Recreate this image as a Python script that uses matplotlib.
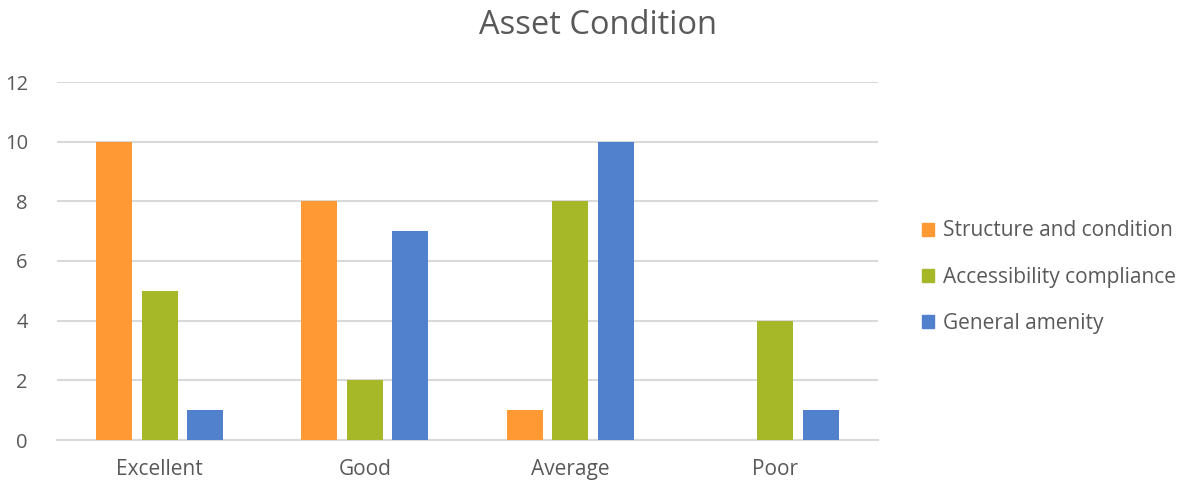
import matplotlib
matplotlib.use("Agg")
import matplotlib.pyplot as plt
import numpy as np
from matplotlib.patches import Patch

categories = ["Excellent", "Good", "Average", "Poor"]
series_names = ["Structure and condition", "Accessibility compliance", "General amenity"]
structure = [10, 8, 1, 0]
accessibility = [5, 2, 8, 4]
amenity = [1, 7, 10, 1]
yticks = [0, 2, 4, 6, 8, 10, 12]
title = "Asset Condition"

colors = ["#FF9933", "#A6B727", "#5181CD"]
txt = "#595959"
plt.rcParams['font.family'] = ['Open Sans', 'DejaVu Sans']

fig = plt.figure(figsize=(11.84, 4.83), dpi=100)
ax = fig.add_axes([57/1184, 1-440/483, (878-57)/1184, (440-82)/483])

x = np.arange(len(categories))
w = 0.1756
off = 0.222
for i, vals in enumerate([structure, accessibility, amenity]):
    ax.bar(x + (i-1)*off, vals, width=w, color=colors[i], zorder=3, label=series_names[i])

ax.set_xlim(-0.5, 3.5)
ax.set_ylim(0, 12)
ax.set_yticks(yticks)
ax.set_xticks(x)
ax.set_xticklabels(categories)
ax.grid(axis='y', color='#D9D9D9', linewidth=1.5, zorder=0)
for s in ['top', 'right', 'left']:
    ax.spines[s].set_visible(False)
ax.spines['bottom'].set_color('#D9D9D9')
ax.spines['bottom'].set_linewidth(1.5)
ax.tick_params(axis='both', length=0, colors=txt)
ax.tick_params(axis='y', pad=21, labelsize=14.5)
ax.tick_params(axis='x', pad=14, labelsize=15)

fig.text(598/1184, 1-26/483, title, ha='center', va='center', fontsize=23.5, color=txt)

handles = [Patch(color=c) for c in colors]
leg = fig.legend(handles, series_names, loc='center left', bbox_to_anchor=(903/1184, 1-277/483),
                 frameon=False, fontsize=15, labelcolor=txt, handlelength=0.6, handleheight=0.6,
                 handletextpad=0.4, labelspacing=1.2)

fig.savefig("out.png", dpi=100)
